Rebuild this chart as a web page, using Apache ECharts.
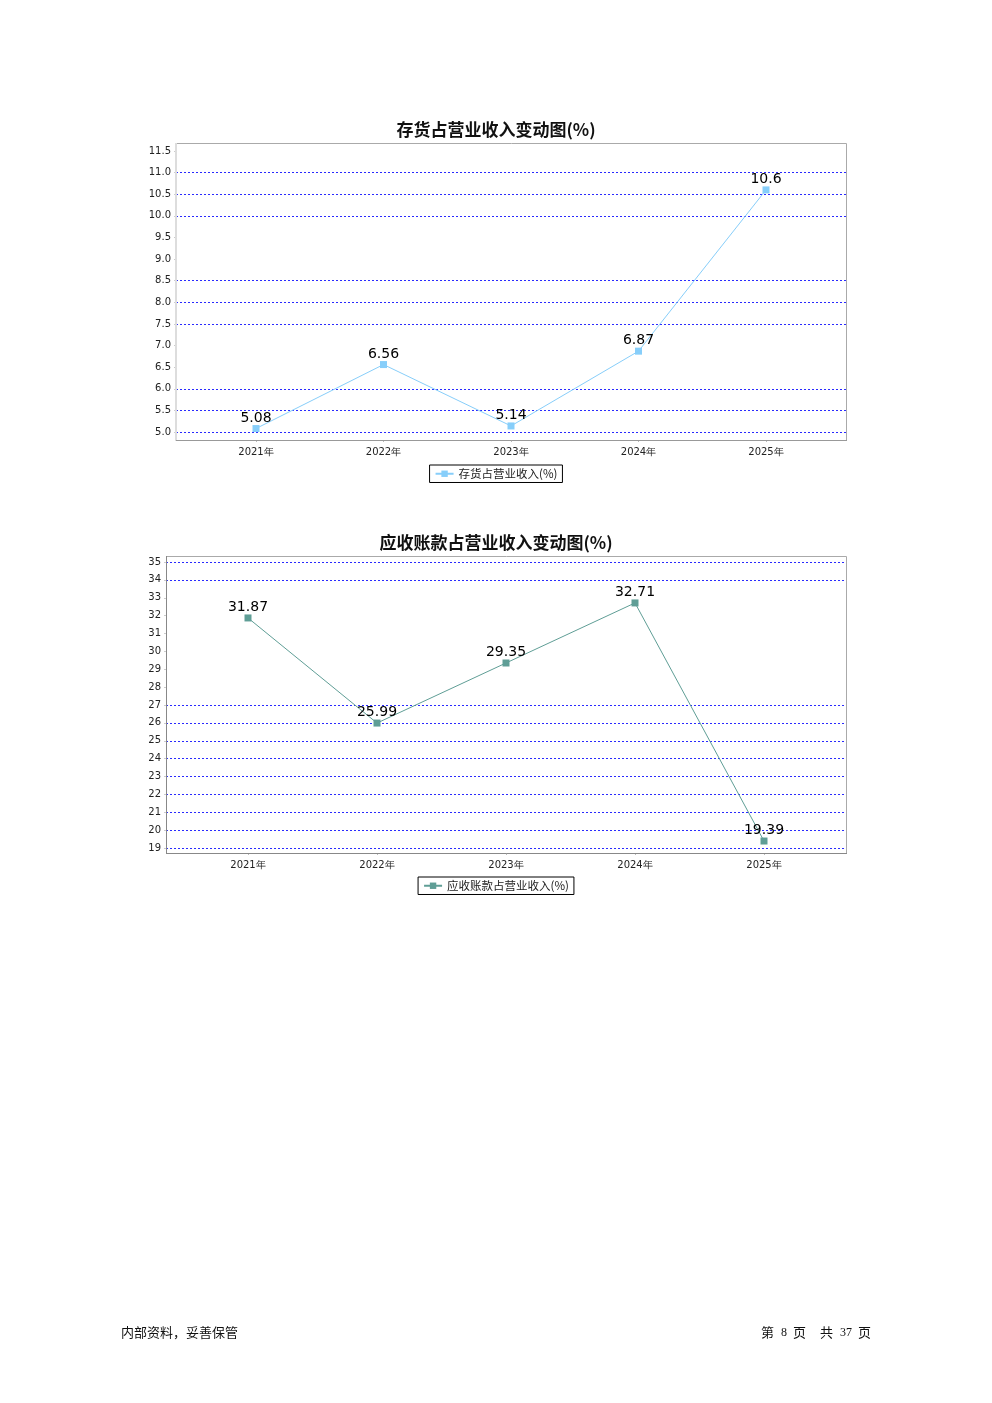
<!DOCTYPE html>
<html>
<head>
<meta charset="utf-8">
<script src="https://cdn.jsdelivr.net/npm/echarts@6/dist/echarts.min.js"></script>
<style>
html,body{margin:0;padding:0;background:#fff;}
#main{width:992px;height:1403px;}
</style>
</head>
<body>
<div id="main"></div>
<script>
// ---- data ----
const years = ['2021年', '2022年', '2023年', '2024年', '2025年'];
const inventoryRatio = [5.08, 6.56, 5.14, 6.87, 10.6];
const receivableRatio = [31.87, 25.99, 29.35, 32.71, 19.39];
const chart1Title = '存货占营业收入变动图(%)';
const chart2Title = '应收账款占营业收入变动图(%)';
const series1Name = '存货占营业收入(%)';
const series2Name = '应收账款占营业收入(%)';
const yAxis1Range = { min: 5.0, max: 11.5, interval: 0.5 };
const yAxis2Range = { min: 19, max: 35, interval: 1 };
// grid lines that are not drawn in the reference
const hiddenGrid1 = [6.5, 7.0, 9.0, 9.5, 11.5];
const hiddenGrid2 = [28, 29, 30, 31, 32, 33];
const pageNo = '8';
const pageTotal = '37';

function gridColors(range, hidden) {
  const cols = [];
  const n = Math.round((range.max - range.min) / range.interval);
  for (let i = 0; i <= n; i++) {
    const v = Math.round((range.min + i * range.interval) * 100) / 100;
    cols.push(hidden.some(h => Math.abs(h - v) < 1e-6) ? 'rgba(0,0,0,0)' : '#2a2aff');
  }
  return cols;
}

const c1 = '#87cefa';
const c2 = '#5f9e96';
const axisFont = { fontSize: 10, color: '#222', fontFamily: 'DejaVu Sans' };
const titleFont = { fontSize: 17, fontWeight: 'bold', color: '#111', fontFamily: 'Noto Sans CJK SC' };
const labelFont = { show: true, position: 'top', distance: 0, fontSize: 14, color: '#000', fontFamily: 'DejaVu Sans' };

const chart = echarts.init(document.getElementById('main'), null, { renderer: 'canvas' });

const option = {
  backgroundColor: '#fff',
  animation: false,
  title: [
    { text: chart1Title, left: 'center', top: 116, textStyle: titleFont },
    { text: chart2Title, left: 'center', top: 529, textStyle: titleFont }
  ],
  legend: [
    { data: [series1Name], left: 'center', top: 465, borderColor: '#000', borderWidth: 1,
      padding: [3, 5], itemWidth: 18, itemHeight: 8, itemGap: 4,
      textStyle: { fontSize: 11.5, color: '#222', fontFamily: 'Noto Sans CJK SC' } },
    { data: [series2Name], left: 'center', top: 877, borderColor: '#000', borderWidth: 1,
      padding: [3, 5], itemWidth: 18, itemHeight: 8, itemGap: 4,
      textStyle: { fontSize: 11.5, color: '#222', fontFamily: 'Noto Sans CJK SC' } }
  ],
  grid: [
    { left: 176, right: 146, top: 151, height: 281 },
    { left: 256, right: 226, top: 151, height: 281 },
    { left: 166, right: 146, top: 562, height: 286 },
    { left: 248, right: 228, top: 562, height: 286 }
  ],
  xAxis: [
    { gridIndex: 0, type: 'value', show: false, min: 0, max: 1 },
    { gridIndex: 1, type: 'category', data: years, boundaryGap: false, offset: 8,
      axisLine: { show: false },
      axisTick: { show: true, length: 2, lineStyle: { color: '#bbb' } },
      axisLabel: Object.assign({ margin: 7 }, axisFont) },
    { gridIndex: 2, type: 'value', show: false, min: 0, max: 1 },
    { gridIndex: 3, type: 'category', data: years, boundaryGap: false, offset: 5,
      axisLine: { show: false },
      axisTick: { show: true, length: 2, lineStyle: { color: '#bbb' } },
      axisLabel: Object.assign({ margin: 7 }, axisFont) }
  ],
  yAxis: [
    { gridIndex: 0, type: 'value', min: yAxis1Range.min, max: yAxis1Range.max, interval: yAxis1Range.interval,
      axisLine: { show: false },
      axisTick: { show: true, length: 2, lineStyle: { color: '#ccc' } },
      axisLabel: Object.assign({ margin: 5, formatter: v => v.toFixed(1) }, axisFont),
      splitLine: { show: true, lineStyle: { type: [2, 2], width: 1, color: gridColors(yAxis1Range, hiddenGrid1) } } },
    { gridIndex: 1, type: 'value', show: false, min: yAxis1Range.min, max: yAxis1Range.max, splitLine: { show: false } },
    { gridIndex: 2, type: 'value', min: yAxis2Range.min, max: yAxis2Range.max, interval: yAxis2Range.interval,
      axisLine: { show: false },
      axisTick: { show: true, length: 2, lineStyle: { color: '#ccc' } },
      axisLabel: Object.assign({ margin: 5 }, axisFont),
      splitLine: { show: true, lineStyle: { type: [2, 2], width: 1, color: gridColors(yAxis2Range, hiddenGrid2) } } },
    { gridIndex: 3, type: 'value', show: false, min: yAxis2Range.min, max: yAxis2Range.max, splitLine: { show: false } }
  ],
  series: [
    { name: series1Name, type: 'line', xAxisIndex: 1, yAxisIndex: 1, data: inventoryRatio,
      symbol: 'rect', symbolSize: 7, showAllSymbol: true,
      itemStyle: { color: c1 }, lineStyle: { color: c1, width: 1 },
      label: labelFont },
    { name: series2Name, type: 'line', xAxisIndex: 3, yAxisIndex: 3, data: receivableRatio,
      symbol: 'rect', symbolSize: 7, showAllSymbol: true,
      itemStyle: { color: c2 }, lineStyle: { color: c2, width: 1 },
      label: labelFont }
  ],
  graphic: [
    { type: 'rect', shape: { x: 176.5, y: 143.5, width: 670, height: 297 }, z: 0, silent: true,
      style: { fill: null, stroke: '#aaa', lineWidth: 1 } },
    { type: 'line', shape: { x1: 176, y1: 143, x2: 176, y2: 441 }, z: 1, silent: true,
      style: { stroke: '#ddd', lineWidth: 2 } },
    { type: 'line', shape: { x1: 176, y1: 440.5, x2: 847, y2: 440.5 }, z: 1, silent: true,
      style: { stroke: '#999', lineWidth: 1 } },
    { type: 'rect', shape: { x: 166.5, y: 556.5, width: 680, height: 297 }, z: 0, silent: true,
      style: { fill: null, stroke: '#aaa', lineWidth: 1 } },
    { type: 'line', shape: { x1: 166.5, y1: 556, x2: 166.5, y2: 854 }, z: 1, silent: true,
      style: { stroke: '#888', lineWidth: 1 } },
    { type: 'line', shape: { x1: 166, y1: 853.5, x2: 847, y2: 853.5 }, z: 1, silent: true,
      style: { stroke: '#888', lineWidth: 1 } },
    { type: 'text', left: 121, top: 1326, silent: true,
      style: { text: '内部资料，妥善保管', fontSize: 13, fill: '#111', fontFamily: 'Noto Sans CJK SC' } },
    { type: 'text', right: 121, top: 1326, silent: true,
      style: { text: '{a|第}{n|' + pageNo + '}{a|页}{g|}{a|共}{n|' + pageTotal + '}{a|页}', fill: '#111',
        rich: { a: { fontSize: 13, fontFamily: 'Noto Sans CJK SC' },
                g: { width: 14, fontSize: 13 },
                n: { fontSize: 12, fontFamily: 'Liberation Serif', padding: [0, 6, 0, 7] } } } }
  ]
};
chart.setOption(option);
</script>
</body>
</html>
